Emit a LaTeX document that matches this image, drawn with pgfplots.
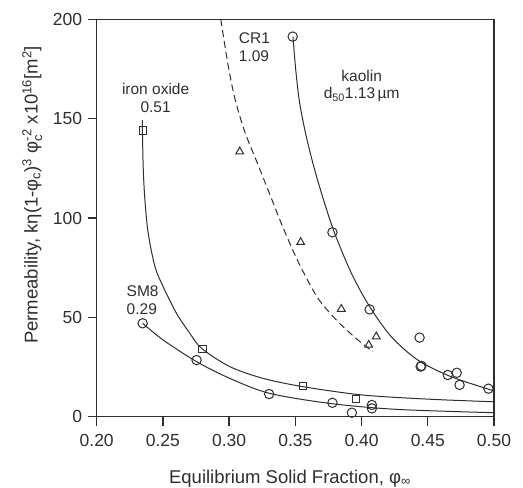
\documentclass[border=0pt]{standalone}
\usepackage{amsmath}
\usepackage{fontspec}
\setmainfont{Liberation Sans}
\usepackage{pgfplots}
\pgfplotsset{compat=1.18}
\definecolor{ink}{gray}{0.18}
\begin{document}
\begin{tikzpicture}
\begin{axis}[name=ax, at={(0,0)}, anchor=south west,
  scale only axis, width=397.3pt, height=397.4pt,
  xmin=0.2, xmax=0.5, ymin=0, ymax=200,
  xtick={0.20,0.25,0.30,0.35,0.40,0.45,0.50},
  ytick={0,50,100,150,200},
  tick pos=left, tick align=outside, major tick length=9pt,
  axis line style={line width=1.4pt, ink},
  every tick/.style={line width=1.3pt, ink},
  /pgf/number format/assume math mode=true,
  ticklabel style={font=\fontsize{17.5}{20}\selectfont, text=ink},
  xticklabel style={yshift=-5pt, /pgf/number format/.cd, fixed, fixed zerofill, precision=2},
  yticklabel style={xshift=-2pt, /pgf/number format/.cd, fixed},
  label style={font=\fontsize{18.5}{21}\selectfont, text=ink},
  xlabel={Equilibrium Solid Fraction, φ\textsubscript{∞}},
  xlabel style={at={(axis description cs:0.4865,-0.155)}, anchor=center},
  ylabel={Permeability, kη(1-φ\textsubscript{c})\textsuperscript{3} $\text{φ}_{\text{c}}^{\text{-2}}$ x10\textsuperscript{16}[m\textsuperscript{2}]},
  ylabel style={at={(axis description cs:-0.162,0.558)}, anchor=center, rotate=0},
  clip=false,
]
% fitted curves
\addplot[ink, line width=1pt, smooth, no markers] coordinates {
(0.3482,191.3)(0.3503,174.5)(0.3533,157.7)(0.3583,140.9)(0.3646,124.2)(0.3721,107.4)(0.3797,92.3)(0.3923,72.2)(0.4061,55.4)(0.4224,40.3)(0.4425,28.5)(0.4677,20.1)(0.5,13.0)};
\addplot[ink, line width=1pt, dashed, dash pattern=on 7pt off 4pt, smooth, no markers] coordinates {
(0.2937,200)(0.2992,177)(0.3043,160.3)(0.3118,143.4)(0.3219,126.7)(0.3319,109.9)(0.342,93.1)(0.3533,76.4)(0.3671,59.6)(0.3822,47.8)(0.3973,38.6)(0.4086,32.7)};
\addplot[ink, line width=1pt, smooth, no markers] coordinates {
(0.2344,149.3)(0.2351,125.8)(0.2364,109.1)(0.2389,92.3)(0.2440,75.5)(0.2502,65.4)(0.2603,52.0)(0.2703,42.0)(0.2792,34.4)(0.3005,25.2)(0.3256,19.3)(0.3558,15.1)(0.401,10.9)(0.4513,8.8)(0.5,7.5)};
\addplot[ink, line width=1pt, smooth, no markers] coordinates {
(0.2347,47.0)(0.2502,38.6)(0.2754,27.7)(0.3005,19.3)(0.3302,11.8)(0.3759,6.7)(0.4262,3.7)(0.5,2.0)};
% data
\addplot[only marks, mark=o, mark size=4.7pt, ink, mark options={line width=1pt}] coordinates {
(0.348,191.3)(0.378,92.8)(0.4061,54.0)(0.4438,39.8)(0.4446,25.2)(0.4452,25.6)(0.4651,21.0)(0.4719,22.1)(0.474,16.0)(0.4958,14.1)};
\addplot[only marks, mark=triangle, mark size=4.5pt, ink, mark options={line width=1pt}] coordinates {
(0.308,133.4)(0.354,87.8)(0.3847,54.2)(0.4111,40.3)(0.4054,36.1)};
\addplot[only marks, mark=square, mark size=3.6pt, ink, mark options={line width=1pt}] coordinates {
(0.2347,144.0)(0.2799,34.2)(0.3558,15.4)(0.396,8.9)};
\addplot[only marks, mark=o, mark size=4.7pt, ink, mark options={line width=1pt}] coordinates {
(0.2347,47.0)(0.2754,28.5)(0.3302,11.4)(0.378,7.0)(0.3927,2.0)(0.4078,5.9)(0.4078,4.2)};
% annotations
\node[font=\fontsize{15.5}{17.5}\selectfont, text=ink, align=center] at (axis cs:0.2445,160.4) {iron oxide\\0.51};
\node[font=\fontsize{15.5}{17.5}\selectfont, text=ink, align=left] at (axis cs:0.3191,186) {CR1\\1.09};
\node[font=\fontsize{15.5}{17.5}\selectfont, text=ink, align=center] at (axis cs:0.4001,166.5) {kaolin\\d\textsubscript{50}1.13\,µm};
\node[font=\fontsize{15.5}{17.5}\selectfont, text=ink, align=left] at (axis cs:0.2347,58.7) {SM8\\0.29};
\end{axis}
\pgfresetboundingbox
\path[use as bounding box] ([shift={(-96.7pt,-71.3pt)}]ax.south west) rectangle ([shift={(426.3pt,416.7pt)}]ax.south west);
\end{tikzpicture}
\end{document}
